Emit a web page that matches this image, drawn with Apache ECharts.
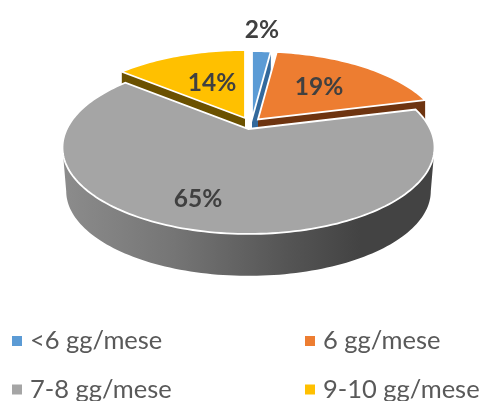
<!DOCTYPE html>
<html>
<head>
<meta charset="utf-8">
<style>html,body{margin:0;padding:0;background:#fff}#chart{width:482px;height:401px}</style>
<script src="https://cdn.jsdelivr.net/npm/echarts@6/dist/echarts.min.js"></script>
</head>
<body>
<div id="chart"></div>
<script>
const categories = ['<6 gg/mese', '6 gg/mese', '7-8 gg/mese', '9-10 gg/mese'];
const shares = [2, 19, 65, 14];
const topColors = ['#5B9BD5', '#ED7D31', '#A5A5A5', '#FFC000'];
const wallColors = ['#33699C', '#6E3410', '#666666', '#6B5100'];

// Tilted-disc projection: unit circle on the table plane to screen offsets.
const SCALE_X = 181.7, SCALE_Y = 82.5, TILT = 0.214;
const DEPTH = 44, FLOOR_SHRINK = 0.98;
// Each wedge is pulled away from the others, so it has its own apex.
const apexes = [[252, 119], [258, 119.5], [248.5, 129], [245, 118]];
const labelSpots = [[262, 30], [319, 87], [198, 199], [212, 83]];

const total = shares.reduce((a, b) => a + b, 0);
function angleAt(i) {
  let sum = 0;
  for (let k = 0; k < i; k++) sum += shares[k];
  return sum / total * Math.PI * 2;
}
function project(angle, apex, k, dy) {
  const u = Math.sin(angle), v = -Math.cos(angle);
  const s = 1 / (1 - TILT * v);
  return [apex[0] + SCALE_X * u * s * k, apex[1] + SCALE_Y * v * s * k + dy];
}
function arc(a0, a1, apex, k, dy) {
  const n = Math.max(4, Math.ceil((a1 - a0) * 40));
  const pts = [];
  for (let j = 0; j <= n; j++) pts.push(project(a0 + (a1 - a0) * j / n, apex, k, dy));
  return pts;
}
// Angles of the disc's widest points: only the rim between them faces the viewer.
const FRONT_START = Math.acos(-TILT), FRONT_END = Math.PI * 2 - FRONT_START;
const sideShade = {
  type: 'linear', x: 0, y: 0, x2: 1, y2: 0,
  colorStops: [
    { offset: 0, color: '#8C8C8C' },
    { offset: 0.3, color: '#757575' },
    { offset: 0.6, color: '#555555' },
    { offset: 0.8, color: '#434343' },
    { offset: 1, color: '#434343' }
  ]
};

function wedge(i) {
  return function () {
    const a0 = angleAt(i), a1 = a0 + shares[i] / total * Math.PI * 2;
    const apex = apexes[i];
    const kids = [];
    const rim = arc(a0, a1, apex, 1, 0);
    // Cut faces first, then the curved side, then the lid on top.
    [rim[0], rim[rim.length - 1]].forEach(p => {
      kids.push({
        type: 'polygon',
        shape: { points: [[apex[0], apex[1]], p, [p[0], p[1] + DEPTH], [apex[0], apex[1] + DEPTH]] },
        style: { fill: wallColors[i] }
      });
    });
    const f0 = Math.max(a0, FRONT_START), f1 = Math.min(a1, FRONT_END);
    if (f1 > f0) {
      const upper = arc(f0, f1, apex, 1, 0);
      const lower = arc(f0, f1, apex, FLOOR_SHRINK, DEPTH).reverse();
      kids.push({
        type: 'polygon',
        shape: { points: upper.concat(lower) },
        style: { fill: sideShade }
      });
    }
    kids.push({
      type: 'polygon',
      shape: { points: [[apex[0], apex[1]]].concat(rim) },
      style: { fill: topColors[i], stroke: '#FFFFFF', lineWidth: 1.8, lineJoin: 'miter' }
    });
    return { type: 'group', children: kids };
  };
}
function percentLabel(i) {
  return function () {
    return {
      type: 'text',
      style: {
        text: shares[i] + '%', x: labelSpots[i][0], y: labelSpots[i][1],
        align: 'center', verticalAlign: 'middle',
        fill: '#404040', font: 'bold 24.5px Lato'
      }
    };
  };
}

// The gray wedge goes last because it sits in front of the others.
const drawOrder = [0, 1, 3, 2];
const series = drawOrder.map(i => ({
  type: 'custom', name: categories[i], coordinateSystem: 'none',
  data: [shares[i]], renderItem: wedge(i), silent: true,
  itemStyle: { color: topColors[i] }
})).concat(drawOrder.map(i => ({
  type: 'custom', coordinateSystem: 'none', z: 5,
  data: [shares[i]], renderItem: percentLabel(i), silent: true
})));

const legendCommon = {
  orient: 'vertical', top: 328, height: 100, itemGap: 22.5, itemWidth: 10, itemHeight: 10,
  icon: 'rect', selectedMode: false,
  textStyle: { color: '#595959', fontFamily: 'Lato', fontSize: 25.5, padding: [0, 0, 0, 3] },
  padding: 0
};
const chart = echarts.init(document.getElementById('chart'), null, { renderer: 'canvas' });
chart.setOption({
  animation: false,
  backgroundColor: '#FFFFFF',
  legend: [
    Object.assign({}, legendCommon, { left: 12, data: [categories[0], categories[2]] }),
    Object.assign({}, legendCommon, { left: 305, data: [categories[1], categories[3]] })
  ],
  series
});
</script>
</body>
</html>
